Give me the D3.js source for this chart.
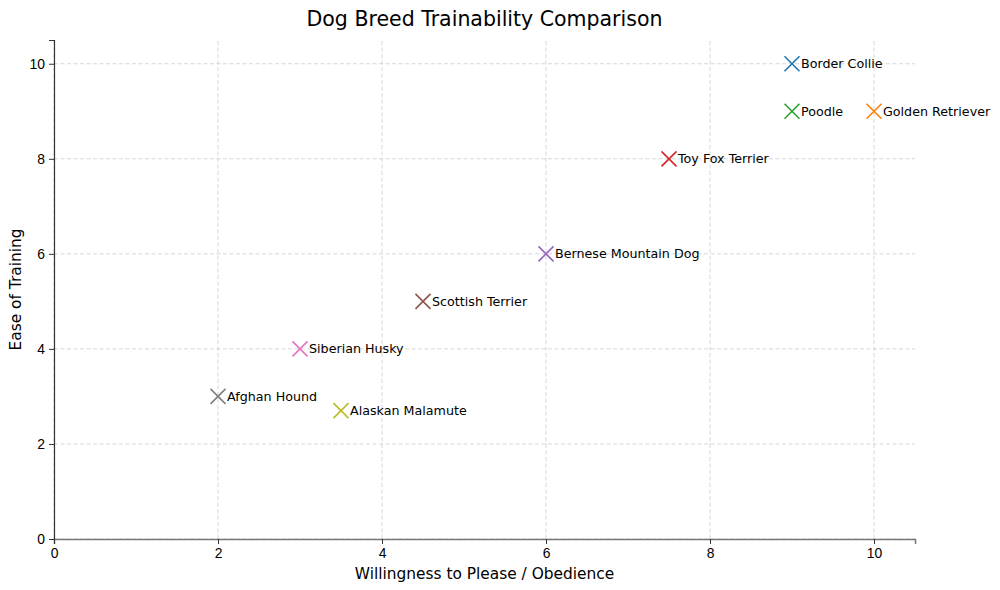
<!DOCTYPE html>
<html>
<head>
<meta charset="utf-8">
<script src="https://cdn.jsdelivr.net/npm/d3@7"></script>
<style>
  body { margin: 0; background: #fff; }
  svg { font-family: "DejaVu Sans", sans-serif; }
</style>
</head>
<body>
<div id="chart"></div>
<script>
const breeds = ["Border Collie", "Golden Retriever", "Poodle", "Toy Fox Terrier", "Bernese Mountain Dog",
    "Scottish Terrier", "Siberian Husky", "Afghan Hound", "Alaskan Malamute"]
const obedience = [9, 10, 9, 7.5, 6, 4.5, 3, 2, 3.5]
const easeOfTraining = [10, 9, 9, 8, 6, 5, 4, 3, 2.7]
const colors = ["#1f77b4", "#ff7f0e", "#2ca02c", "#d62728", "#9467bd", "#8c564b", "#e377c2", "#7f7f7f", "#bcbd22"]
const xTicks = [0, 2, 4, 6, 8, 10]
const yTicks = [0, 2, 4, 6, 8, 10]

const width = 1000
const height = 590
const margin = ({ top: 40, right: 85, bottom: 51, left: 54 })

const data = breeds.map((name, i) => ({ name, x: obedience[i], y: easeOfTraining[i], color: colors[i] }))

const x = d3.scaleLinear()
    .domain([0, 10.5])
    .range([margin.left, width - margin.right])

const y = d3.scaleLinear()
    .domain([0, 10.5])
    .range([height - margin.bottom, margin.top])

const svg = d3.select("#chart")
    .append("svg")
    .attr("width", width)
    .attr("height", height)

// grid
svg.append("g")
    .attr("stroke", "#b0b0b0")
    .attr("stroke-opacity", 0.5)
    .attr("stroke-dasharray", "4,2.5")
    .call(g => g.selectAll(".vx").data(xTicks).join("line")
        .attr("x1", d => x(d)).attr("x2", d => x(d))
        .attr("y1", y(0)).attr("y2", y(10.5)))
    .call(g => g.selectAll(".hy").data(yTicks).join("line")
        .attr("class", "hy")
        .attr("y1", d => y(d)).attr("y2", d => y(d))
        .attr("x1", x(0)).attr("x2", x(10.5)))

const xAxis = svg.append("g")
    .attr("transform", `translate(0,${y(0)})`)
    .call(d3.axisBottom(x).tickValues(xTicks).tickSize(5).tickPadding(4))
xAxis.select(".domain").attr("stroke", "#777").attr("stroke-width", 1.5)
xAxis.selectAll("text").attr("font-size", 13.9).attr("fill", "#000")

const yAxis = svg.append("g")
    .attr("transform", `translate(${x(0)},0)`)
    .call(d3.axisLeft(y).tickValues(yTicks).tickSize(5).tickPadding(4))
yAxis.select(".domain").attr("stroke", "#333").attr("stroke-width", 1.2)
yAxis.selectAll("text").attr("font-size", 13.9).attr("fill", "#000")
svg.selectAll(".tick line").attr("stroke", "#333")

// markers
const s = 7.5
svg.append("g")
    .selectAll("path")
    .data(data)
    .join("path")
    .attr("transform", d => `translate(${x(d.x)},${y(d.y)})`)
    .attr("d", `M${-s},${-s}L${s},${s}M${-s},${s}L${s},${-s}`)
    .attr("stroke", d => d.color)
    .attr("stroke-width", 1.6)
    .attr("fill", "none")

svg.append("g")
    .attr("font-size", 12.7)
    .attr("fill", "#000")
    .selectAll("text")
    .data(data)
    .join("text")
    .attr("x", d => x(d.x) + 9)
    .attr("y", d => y(d.y))
    .attr("dy", "0.35em")
    .text(d => d.name)

svg.append("text")
    .attr("x", (margin.left + width - margin.right) / 2)
    .attr("y", 26)
    .attr("text-anchor", "middle")
    .attr("font-size", 20.5)
    .text("Dog Breed Trainability Comparison")

svg.append("text")
    .attr("x", (margin.left + width - margin.right) / 2)
    .attr("y", 579)
    .attr("text-anchor", "middle")
    .attr("font-size", 15.4)
    .text("Willingness to Please / Obedience")

svg.append("text")
    .attr("transform", `translate(21,${(margin.top + height - margin.bottom) / 2}) rotate(-90)`)
    .attr("text-anchor", "middle")
    .attr("font-size", 15.4)
    .text("Ease of Training")
</script>
</body>
</html>
